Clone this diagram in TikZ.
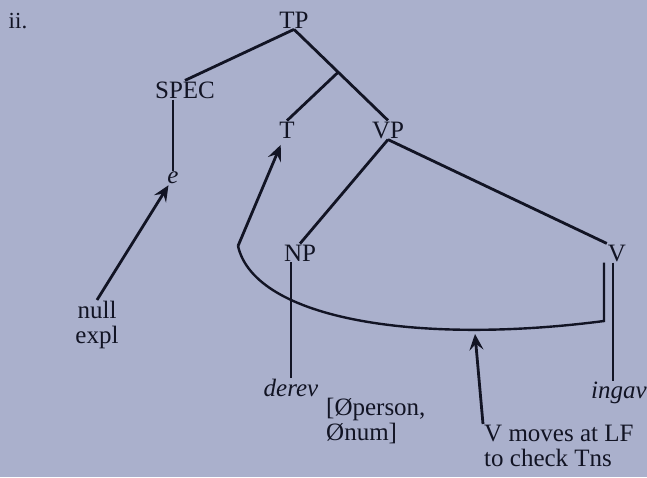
\documentclass[tikz,border=0pt]{standalone}
\usepackage{xcolor}
\usepackage{fontspec}
\setmainfont{Liberation Serif}
\usepackage{tikz}
\usetikzlibrary{arrows.meta,calc}

\definecolor{paper}{HTML}{AAB0CC}
\definecolor{ink}{HTML}{121424}

\begin{document}
\begin{tikzpicture}[
    x=1pt, y=-1pt,
    lab/.style={inner sep=1pt, text=ink, font=\fontsize{25}{25}\selectfont},
    note/.style={lab, align=left, font=\fontsize{25}{25}\selectfont},
    branch/.style={draw=ink, line width=2.8pt},
    arrow/.style={draw=ink, line width=2.8pt, -{Stealth[length=16pt,width=14pt,inset=6pt]}}
]
    % page
    \fill[paper] (0,0) rectangle (647,477);
    \useasboundingbox (0,0) rectangle (647,477);

    \node[lab, font=\fontsize{23}{23}\selectfont] (num) at (18,21) {ii.};

    % Tree
    \node[lab] (TP) at (294,20) {TP};
    \node[lab] (SPEC) at (185,90) {SPEC};
    \node[lab] (T) at (287,130) {T};
    \node[lab] (VP) at (388,130) {VP};
    \node[lab] (NP) at (300,253) {NP};
    \node[lab] (V) at (617,253) {V};
    \node[lab] (e) at (173,178) {\itshape e};
    \node[lab] (derev) at (291,388) {\itshape derev};
    \node[lab] (ingav) at (619,393) {\itshape ingav};

    % Annotations
    \node[note, align=center] (nullexpl) at (97,325) {null\\expl};
    \node[note, anchor=north west] (feats) at (325,397) {[Øperson,\\Ønum]};
    \node[note, anchor=north west] (vmoves) at (483,424) {V moves at LF\\to check Tns};

    % Branches
    \coordinate (jT) at ($(TP.south)!0.47!(VP.north)$);
    \draw[branch] (TP.south) -- (SPEC.north);
    \draw[branch] (TP.south) -- (VP.north);
    \draw[branch] (jT) -- (T.north);
    \draw[branch] (VP.south) -- (NP.north);
    \draw[branch] (VP.south) -- (V.north west);
    \draw[branch] (e.north |- SPEC.south) -- (e.north);
    \draw[branch] (derev.north |- NP.south) -- (derev.north);
    \draw[branch] ([xshift=-4pt]V.south) -- ([xshift=-4pt]V.south |- ingav.north);

    % Movement curve
    \coordinate (cS) at (238,246);
    \coordinate (cE) at (604,321);
    \coordinate (cB) at (475,334);
    \draw[branch, line width=2.4pt] (cS) .. controls (255,320) and (420,345) .. (cE)
        -- ([xshift=-13pt]V.south |- cE) |- ([xshift=-13pt]V.south);

    % Arrows
    \draw[arrow] (nullexpl.north) -- (e);
    \draw[arrow, shorten >=6pt] (cS) -- (T);
    \draw[arrow] (vmoves.north west) -- (cB);
\end{tikzpicture}
\end{document}
